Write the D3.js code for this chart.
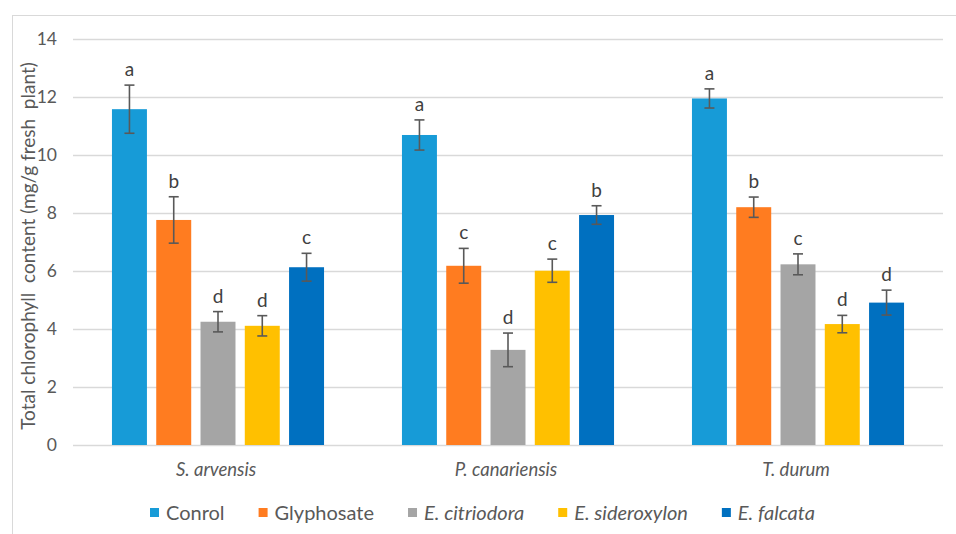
<!DOCTYPE html>
<html><head><meta charset="utf-8">
<script src="https://cdn.jsdelivr.net/npm/d3@7/dist/d3.min.js"></script>
<style>body{margin:0;background:#fff}svg{display:block}</style>
</head><body>
<svg id="c" width="956" height="534"></svg>
<script>
const groups = ["S. arvensis", "P. canariensis", "T. durum"];
const series = ["Conrol", "Glyphosate", "E. citriodora", "E. sideroxylon", "E. falcata"];
const italicSeries = [false, false, true, true, true];
const colors = ["#179BD7", "#FF7C20", "#A5A5A5", "#FFC000", "#0070C0"];
const valConrol      = [11.58, 10.69, 11.95];
const valGlyphosate  = [7.76, 6.18, 8.20];
const valCitriodora  = [4.25, 3.28, 6.23];
const valSideroxylon = [4.11, 6.01, 4.17];
const valFalcata     = [6.13, 7.93, 4.91];
const errConrol      = [0.83, 0.52, 0.33];
const errGlyphosate  = [0.80, 0.60, 0.35];
const errCitriodora  = [0.35, 0.58, 0.36];
const errSideroxylon = [0.35, 0.40, 0.30];
const errFalcata     = [0.48, 0.32, 0.43];
const letConrol      = ["a", "a", "a"];
const letGlyphosate  = ["b", "c", "b"];
const letCitriodora  = ["d", "d", "c"];
const letSideroxylon = ["d", "c", "d"];
const letFalcata     = ["c", "b", "d"];
const yTicks = [0, 2, 4, 6, 8, 10, 12, 14];
const yTitle = "Total chlorophyll  content (mg/g fresh  plant)";

const values = [valConrol, valGlyphosate, valCitriodora, valSideroxylon, valFalcata];
const errors = [errConrol, errGlyphosate, errCitriodora, errSideroxylon, errFalcata];
const letters = [letConrol, letGlyphosate, letCitriodora, letSideroxylon, letFalcata];

(function () {
const svg = d3.select("#c");
const font = "Lato, 'Open Sans', sans-serif";
const txt = "#595959";

// outer border
svg.append("rect").attr("x", 12.5).attr("y", 15.5).attr("width", 980).attr("height", 560)
  .attr("fill", "none").attr("stroke", "#d9d9d9").attr("stroke-width", 1);

const pl = 73, pr = 943, pt = 39, pb = 445;
const y = d3.scaleLinear().domain([0, 14]).range([pb, pt]);
const x0 = d3.scaleBand().domain(groups).range([pl, pr]).padding(0);
const x1 = d3.scaleBand().domain(series).range([0, x0.bandwidth()]).paddingInner(0.21).paddingOuter(0.88);

// gridlines
const yAxis = d3.axisLeft(y).tickValues(yTicks).tickSize(-(pr - pl)).tickFormat(d3.format("d")).tickPadding(16);
const ga = svg.append("g").attr("transform", `translate(${pl},0)`).call(yAxis);
ga.select(".domain").remove();
ga.selectAll(".tick line").attr("stroke", "#d9d9d9").attr("stroke-width", 1.5);
ga.selectAll(".tick text").attr("fill", txt).style("font-family", font).style("font-size", "17.5px");

// bars
const gg = svg.append("g");
series.forEach((s, si) => {
  groups.forEach((g, gi) => {
    const v = values[si][gi], e = errors[si][gi];
    const bx = x0(g) + x1(s), bw = x1.bandwidth();
    gg.append("rect").attr("x", bx).attr("y", y(v)).attr("width", bw).attr("height", y(0) - y(v))
      .attr("fill", colors[si]);
    const cx = bx + bw / 2;
    const eb = gg.append("g").attr("stroke", "#595959").attr("stroke-width", 1.6);
    eb.append("line").attr("x1", cx).attr("x2", cx).attr("y1", y(v + e)).attr("y2", y(v - e));
    eb.append("line").attr("x1", cx - 5).attr("x2", cx + 5).attr("y1", y(v + e)).attr("y2", y(v + e));
    eb.append("line").attr("x1", cx - 5).attr("x2", cx + 5).attr("y1", y(v - e)).attr("y2", y(v - e));
    gg.append("text").attr("x", cx).attr("y", y(v + e) - 9).attr("text-anchor", "middle")
      .attr("fill", "#404040").style("font-family", font).style("font-size", "19px").text(letters[si][gi]);
  });
});

// category labels
groups.forEach(g => {
  svg.append("text").attr("x", x0(g) + x0.bandwidth() / 2 - 2).attr("y", 476).attr("text-anchor", "middle")
    .attr("fill", txt).style("font-family", font).style("font-size", "18.5px").style("font-style", "italic").text(g);
});

// y title
svg.append("text").attr("transform", `translate(35,246) rotate(-90)`).attr("text-anchor", "middle")
  .attr("fill", txt).style("font-family", font).style("font-size", "19px").style("white-space", "pre")
  .text(yTitle);

// legend
const lg = svg.append("g");
let lx = 150;
series.forEach((s, si) => {
  lg.append("rect").attr("x", lx).attr("y", 508).attr("width", 9).attr("height", 9).attr("fill", colors[si]);
  const t = lg.append("text").attr("x", lx + 16).attr("y", 520).attr("fill", txt)
    .style("font-family", font).style("font-size", "20px").style("font-style", italicSeries[si] ? "italic" : "normal").text(s);
  lx += 16 + t.node().getComputedTextLength() + 34;
});
})();
</script>
</body></html>
